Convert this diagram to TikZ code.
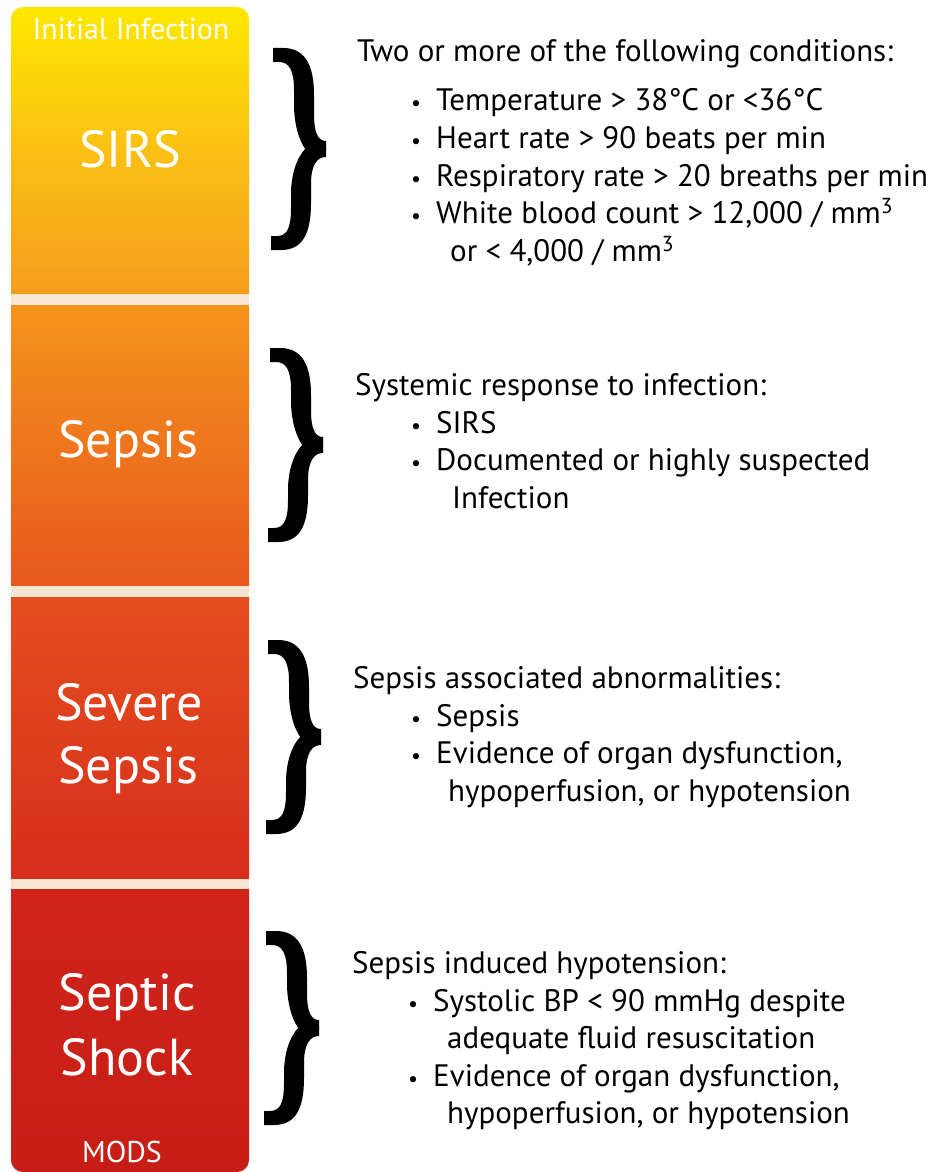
\documentclass[tikz,border=0pt]{standalone}
\usepackage{fontspec}
\setmainfont{PT Sans}
\definecolor{yA}{RGB}{255,232,0}
\definecolor{yB}{RGB}{250,192,20}
\definecolor{yC}{RGB}{245,158,30}
\definecolor{oA}{RGB}{244,148,28}
\definecolor{oB}{RGB}{232,88,30}
\definecolor{rA}{RGB}{228,78,30}
\definecolor{rB}{RGB}{215,46,28}
\definecolor{dA}{RGB}{208,36,26}
\definecolor{dB}{RGB}{198,30,22}
\definecolor{gapc}{RGB}{248,230,210}
\tikzset{
  body/.style={anchor=base west, inner sep=0pt, text=black, font=\fontsize{31}{37}\selectfont},
  bul/.style={anchor=base, inner sep=0pt, text=black, font=\fontsize{22}{22}\selectfont},
  big/.style={anchor=base, inner sep=0pt, text=white, font=\fontsize{52}{60}\selectfont},
  small/.style={anchor=base, inner sep=0pt, text=white, font=\fontsize{30}{32}\selectfont},
  braceink/.style={fill=black, draw=none},
  pics/curly/.style={code={
    \fill[braceink] (0,-7) -- (10,-7) .. controls (32,-7) and (41,10) .. (41,40)
       -- (41,#1/2-35) .. controls (41,#1/2-16) and (45,#1/2-8) .. (53,#1/2-8)
       -- (53,#1/2+1) -- (33,#1/2+1) .. controls (26,#1/2-8) and (21,#1/2-25) .. (21,#1/2-45)
       -- (21,35) .. controls (21,15) and (16,7) .. (6,7) -- (0,7) -- cycle;
    \fill[braceink] (-2,#1+7) -- (8,#1+7) .. controls (30,#1+7) and (38,#1-10) .. (38,#1-40)
       -- (38,#1/2+35) .. controls (38,#1/2+16) and (44,#1/2+8) .. (53,#1/2+8)
       -- (53,#1/2-1) -- (33,#1/2-1) .. controls (24,#1/2+8) and (18,#1/2+25) .. (18,#1/2+45)
       -- (18,#1-35) .. controls (18,#1-15) and (14,#1-7) .. (4,#1-7) -- (-2,#1-7) -- cycle;
  }}
}
\begin{document}
\begin{tikzpicture}[x=1pt,y=-1pt]
\useasboundingbox (0,0) rectangle (935,1172);
\fill[white] (0,0) rectangle (935,1172);
% column
\begin{scope}
\clip[rounded corners=12pt] (11,7) rectangle (249,1172);
\fill[gapc] (11,7) rectangle (249,1172);
\shade[top color=yA, bottom color=yC, middle color=yB] (11,7) rectangle (249,293);
\shade[top color=oA, bottom color=oB] (11,305) rectangle (249,585);
\shade[top color=rA, bottom color=rB] (11,597) rectangle (249,878);
\shade[top color=dA, bottom color=dB] (11,889) rectangle (249,1172);
\end{scope}
% left labels
\node[small] (init) at (131,40) {Initial Infection};
\node[big] (sirs) at (130,167) {SIRS};
\node[big] (sepsis) at (128,457) {Sepsis};
\node[big] (severe) at (129,720) {Severe};
\node[big] (severe2) at (128,783) {Sepsis};
\node[big] (septic) at (127,1010) {Septic};
\node[big] (shock) at (127,1075) {Shock};
\node[small] (mods) at (122,1162) {MODS};
% braces
\pic at (273,55) {curly=188};
\pic at (270,355) {curly=180};
\pic at (268,647) {curly=180};
\pic at (266,938) {curly=180};
% block 1
\node[body] (h1) at (357,62) {Two or more of the following conditions:};
\node[bul] (b11) at (416,110) {•};
\node[body] (t11) at (436,110) {Temperature > 38°C or <36°C};
\node[bul] (b12) at (416,148) {•};
\node[body] (t12) at (436,148) {Heart rate > 90 beats per min};
\node[bul] (b13) at (416,186) {•};
\node[body] (t13) at (436,186) {Respiratory rate > 20 breaths per min};
\node[bul] (b14) at (416,223) {•};
\node[body] (t14) at (436,223) {White blood count > 12,000 / mm\textsuperscript{3}};
\node[body] (t15) at (450,261) {or < 4,000 / mm\textsuperscript{3}};
% block 2
\node[body] (h2) at (355,395) {Systemic response to infection:};
\node[bul] (b21) at (416,433) {•};
\node[body] (t21) at (436,433) {SIRS};
\node[bul] (b22) at (416,470) {•};
\node[body] (t22) at (436,470) {Documented or highly suspected};
\node[body] (t23) at (452,508) {Infection};
% block 3
\node[body] (h3) at (353,688) {Sepsis associated abnormalities:};
\node[bul] (b31) at (416,726) {•};
\node[body] (t31) at (436,726) {Sepsis};
\node[bul] (b32) at (416,763) {•};
\node[body] (t32) at (436,763) {Evidence of organ dysfunction,};
\node[body] (t33) at (448,801) {hypoperfusion, or hypotension};
% block 4
\node[body] (h4) at (352,973) {Sepsis induced hypotension:};
\node[bul] (b41) at (413,1011) {•};
\node[body] (t41) at (433,1011) {Systolic BP < 90 mmHg despite};
\node[body] (t42) at (447,1048) {adequate fluid resuscitation};
\node[bul] (b43) at (413,1086) {•};
\node[body] (t43) at (433,1086) {Evidence of organ dysfunction,};
\node[body] (t44) at (447,1123) {hypoperfusion, or hypotension};
\end{tikzpicture}
\end{document}
